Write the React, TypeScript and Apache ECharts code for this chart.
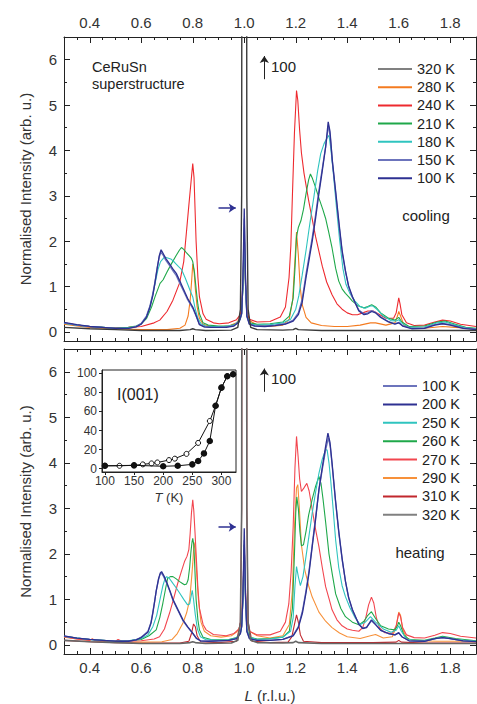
import React, { useEffect, useRef } from 'react';
import * as echarts from 'echarts';

// ---------- tick positions ----------
const xLabelVals = [0.4, 0.6, 0.8, 1.0, 1.2, 1.4, 1.6, 1.8];
const xMinorVals = [0.35, 0.45, 0.5, 0.55, 0.65, 0.7, 0.75, 0.85, 0.9, 0.95, 1.05, 1.1, 1.15, 1.25, 1.3, 1.35, 1.45, 1.5, 1.55, 1.65, 1.7, 1.75, 1.85];
const yLabelVals = [0, 1, 2, 3, 4, 5, 6];
const yMinorVals = [0.5, 1.5, 2.5, 3.5, 4.5, 5.5];
const insetXTicks = [100, 150, 200, 250, 300];
const insetYTicks = [0, 20, 40, 60, 80, 100];

// ---------- top panel (cooling) ----------
const coolNames = ['320 K', '280 K', '240 K', '210 K', '180 K', '150 K', '100 K'];
const cool100 = [[0.30,0.21],[0.35,0.16],[0.40,0.12],[0.45,0.10],[0.50,0.08],[0.55,0.08],[0.58,0.11],[0.60,0.17],[0.62,0.32],[0.634,0.55],[0.645,0.8],[0.653,1.07],[0.662,1.4],[0.67,1.68],[0.677,1.81],[0.684,1.74],[0.695,1.62],[0.71,1.5],[0.725,1.37],[0.736,1.29],[0.75,1.12],[0.765,0.93],[0.78,0.74],[0.80,0.55],[0.812,0.38],[0.826,0.16],[0.845,0.11],[0.87,0.1],[0.9,0.1],[0.93,0.1],[0.96,0.13],[0.98,0.22],[0.99,0.4],[0.995,1.2],[1.0,2.72],[1.005,1.2],[1.01,0.35],[1.02,0.17],[1.04,0.13],[1.08,0.12],[1.12,0.14],[1.16,0.17],[1.19,0.24],[1.21,0.38],[1.225,0.65],[1.24,1.2],[1.252,1.6],[1.264,2.0],[1.277,2.5],[1.29,3.05],[1.303,3.55],[1.316,4.07],[1.326,4.63],[1.333,4.42],[1.342,3.78],[1.355,3.1],[1.368,2.4],[1.38,1.8],[1.393,1.35],[1.405,1.02],[1.42,0.78],[1.445,0.46],[1.465,0.38],[1.48,0.4],[1.495,0.45],[1.51,0.42],[1.53,0.32],[1.56,0.22],[1.585,0.17],[1.6,0.2],[1.615,0.13],[1.65,0.07],[1.7,0.08],[1.74,0.15],[1.77,0.18],[1.8,0.15],[1.85,0.08],[1.9,0.05]];
const cool150 = [[0.30,0.2],[0.35,0.15],[0.40,0.12],[0.45,0.1],[0.50,0.08],[0.55,0.08],[0.58,0.12],[0.60,0.19],[0.62,0.35],[0.634,0.58],[0.645,0.85],[0.653,1.1],[0.662,1.42],[0.67,1.65],[0.676,1.76],[0.684,1.7],[0.695,1.58],[0.71,1.46],[0.725,1.33],[0.736,1.24],[0.75,1.07],[0.765,0.89],[0.78,0.71],[0.80,0.52],[0.812,0.36],[0.826,0.17],[0.845,0.11],[0.87,0.1],[0.9,0.1],[0.93,0.11],[0.96,0.14],[0.98,0.23],[0.99,0.4],[0.995,1.1],[1.0,2.5],[1.005,1.1],[1.01,0.35],[1.02,0.17],[1.04,0.14],[1.08,0.13],[1.12,0.15],[1.16,0.18],[1.19,0.26],[1.21,0.42],[1.225,0.72],[1.24,1.28],[1.252,1.68],[1.264,2.08],[1.277,2.58],[1.29,3.12],[1.303,3.6],[1.316,4.08],[1.327,4.55],[1.334,4.3],[1.343,3.7],[1.356,3.0],[1.369,2.3],[1.381,1.72],[1.394,1.3],[1.406,0.98],[1.42,0.76],[1.445,0.48],[1.465,0.4],[1.48,0.42],[1.495,0.47],[1.51,0.43],[1.53,0.33],[1.56,0.23],[1.585,0.18],[1.6,0.21],[1.615,0.14],[1.65,0.08],[1.7,0.09],[1.74,0.16],[1.77,0.19],[1.8,0.16],[1.85,0.09],[1.9,0.06]];
const cool180 = [[0.30,0.19],[0.35,0.15],[0.40,0.12],[0.45,0.1],[0.50,0.08],[0.55,0.09],[0.58,0.12],[0.60,0.18],[0.62,0.33],[0.634,0.55],[0.645,0.82],[0.655,1.1],[0.665,1.38],[0.675,1.55],[0.69,1.65],[0.703,1.63],[0.717,1.6],[0.73,1.53],[0.745,1.44],[0.756,1.38],[0.77,1.2],[0.782,1.03],[0.792,0.88],[0.80,0.77],[0.81,0.5],[0.82,0.3],[0.832,0.18],[0.85,0.13],[0.88,0.12],[0.92,0.12],[0.96,0.15],[0.98,0.25],[0.99,0.42],[0.995,1.0],[1.0,2.3],[1.005,1.0],[1.01,0.35],[1.02,0.18],[1.05,0.15],[1.1,0.16],[1.15,0.2],[1.18,0.28],[1.2,0.5],[1.212,0.8],[1.225,1.25],[1.24,1.8],[1.255,2.4],[1.271,3.0],[1.285,3.55],[1.297,3.93],[1.31,4.15],[1.322,4.28],[1.329,4.33],[1.336,4.05],[1.346,3.5],[1.358,2.75],[1.37,2.05],[1.383,1.4],[1.395,1.05],[1.41,0.85],[1.43,0.68],[1.45,0.56],[1.47,0.52],[1.49,0.57],[1.5,0.57],[1.515,0.5],[1.54,0.35],[1.57,0.25],[1.59,0.24],[1.6,0.27],[1.61,0.2],[1.64,0.1],[1.7,0.11],[1.75,0.2],[1.78,0.22],[1.82,0.15],[1.86,0.09],[1.9,0.07]];
const cool210 = [[0.30,0.19],[0.35,0.15],[0.40,0.12],[0.45,0.1],[0.50,0.08],[0.55,0.1],[0.58,0.13],[0.60,0.18],[0.621,0.3],[0.64,0.55],[0.655,0.8],[0.665,0.95],[0.673,1.07],[0.685,1.15],[0.70,1.32],[0.717,1.5],[0.735,1.68],[0.748,1.8],[0.756,1.86],[0.765,1.82],[0.776,1.74],[0.786,1.68],[0.795,1.62],[0.80,1.55],[0.807,1.3],[0.814,0.9],[0.82,0.6],[0.826,0.4],[0.84,0.2],[0.86,0.15],[0.9,0.13],[0.94,0.13],[0.97,0.18],[0.985,0.28],[0.99,0.42],[0.995,1.0],[1.0,2.2],[1.005,1.0],[1.01,0.38],[1.02,0.2],[1.05,0.17],[1.1,0.18],[1.15,0.22],[1.175,0.35],[1.19,0.75],[1.197,1.4],[1.203,2.1],[1.21,2.3],[1.22,2.45],[1.23,2.7],[1.24,3.05],[1.25,3.35],[1.257,3.48],[1.265,3.38],[1.275,3.22],[1.29,2.95],[1.305,2.7],[1.316,2.5],[1.328,2.2],[1.341,1.85],[1.355,1.4],[1.367,1.12],[1.38,0.95],[1.393,0.85],[1.405,0.78],[1.42,0.68],[1.444,0.57],[1.465,0.53],[1.48,0.56],[1.495,0.6],[1.51,0.55],[1.53,0.42],[1.56,0.3],[1.585,0.26],[1.6,0.32],[1.612,0.22],[1.64,0.12],[1.7,0.13],[1.75,0.22],[1.78,0.24],[1.82,0.17],[1.86,0.1],[1.9,0.08]];
const cool240 = [[0.30,0.2],[0.35,0.15],[0.40,0.12],[0.45,0.1],[0.50,0.09],[0.55,0.1],[0.60,0.12],[0.65,0.2],[0.672,0.26],[0.70,0.45],[0.723,0.7],[0.749,1.08],[0.765,1.55],[0.775,2.17],[0.785,2.8],[0.795,3.41],[0.80,3.71],[0.805,3.4],[0.813,2.0],[0.82,1.2],[0.826,0.77],[0.84,0.4],[0.852,0.28],[0.88,0.2],[0.903,0.18],[0.94,0.2],[0.97,0.27],[0.985,0.38],[0.99,0.55],[0.995,1.1],[1.0,2.2],[1.005,1.1],[1.01,0.45],[1.02,0.28],[1.05,0.22],[1.1,0.23],[1.14,0.33],[1.16,0.55],[1.174,1.2],[1.181,1.9],[1.187,3.0],[1.195,4.4],[1.203,5.32],[1.208,5.1],[1.215,4.45],[1.222,3.95],[1.232,3.5],[1.25,2.9],[1.277,2.1],[1.303,1.45],[1.32,1.1],[1.341,0.82],[1.36,0.62],[1.38,0.5],[1.40,0.42],[1.42,0.38],[1.44,0.38],[1.46,0.42],[1.48,0.46],[1.5,0.46],[1.52,0.4],[1.55,0.3],[1.58,0.3],[1.59,0.42],[1.596,0.62],[1.6,0.75],[1.605,0.62],[1.612,0.38],[1.63,0.2],[1.66,0.14],[1.7,0.15],[1.74,0.22],[1.77,0.26],[1.8,0.24],[1.84,0.17],[1.9,0.12]];
const cool280 = [[0.30,0.17],[0.35,0.13],[0.40,0.1],[0.45,0.08],[0.5,0.07],[0.6,0.05],[0.7,0.05],[0.75,0.08],[0.77,0.15],[0.782,0.35],[0.79,0.7],[0.796,1.15],[0.80,1.5],[0.805,1.35],[0.81,0.95],[0.817,0.55],[0.826,0.3],[0.84,0.17],[0.87,0.12],[0.9,0.11],[0.94,0.13],[0.97,0.2],[0.985,0.32],[0.99,0.5],[0.995,1.0],[1.0,2.0],[1.005,1.0],[1.01,0.45],[1.02,0.25],[1.05,0.15],[1.1,0.12],[1.15,0.15],[1.175,0.28],[1.188,0.7],[1.195,1.4],[1.203,2.2],[1.21,1.7],[1.217,1.0],[1.225,0.6],[1.24,0.32],[1.26,0.2],[1.3,0.14],[1.35,0.12],[1.4,0.12],[1.45,0.15],[1.49,0.2],[1.51,0.2],[1.55,0.15],[1.585,0.2],[1.595,0.35],[1.6,0.45],[1.607,0.35],[1.62,0.15],[1.65,0.08],[1.7,0.08],[1.77,0.12],[1.82,0.1],[1.9,0.07]];
const cool320 = [[0.30,0.1],[0.4,0.07],[0.5,0.05],[0.6,0.03],[0.75,0.03],[0.79,0.05],[0.80,0.07],[0.81,0.05],[0.85,0.03],[0.95,0.04],[0.975,0.1],[0.985,0.5],[0.99,3],[0.993,30],[0.996,100],[1.004,100],[1.007,30],[1.01,3],[1.015,0.5],[1.025,0.1],[1.05,0.05],[1.15,0.04],[1.19,0.05],[1.2,0.08],[1.21,0.05],[1.3,0.03],[1.5,0.03],[1.7,0.03],[1.9,0.03]];

// ---------- bottom panel (heating) ----------
const heatNames = ['100 K', '200 K', '250 K', '260 K', '270 K', '290 K', '310 K', '320 K'];
const heat100 = [[0.30,0.19],[0.35,0.15],[0.40,0.12],[0.45,0.1],[0.50,0.08],[0.55,0.08],[0.58,0.11],[0.60,0.17],[0.626,0.3],[0.638,0.5],[0.645,0.72],[0.652,0.96],[0.658,1.18],[0.667,1.43],[0.673,1.55],[0.678,1.58],[0.687,1.5],[0.70,1.34],[0.712,1.16],[0.723,0.98],[0.742,0.76],[0.762,0.53],[0.78,0.39],[0.80,0.25],[0.815,0.14],[0.83,0.09],[0.86,0.08],[0.9,0.09],[0.94,0.1],[0.97,0.14],[0.985,0.25],[0.99,0.4],[0.995,1.0],[1.0,2.3],[1.005,1.0],[1.01,0.3],[1.02,0.14],[1.05,0.1],[1.1,0.1],[1.15,0.12],[1.19,0.21],[1.21,0.4],[1.226,0.75],[1.24,1.2],[1.252,1.65],[1.264,2.2],[1.277,2.8],[1.29,3.4],[1.303,3.85],[1.316,4.28],[1.327,4.55],[1.334,4.35],[1.342,3.9],[1.355,3.12],[1.368,2.42],[1.381,1.84],[1.394,1.36],[1.406,1.02],[1.42,0.76],[1.445,0.46],[1.46,0.37],[1.475,0.39],[1.494,0.53],[1.51,0.44],[1.53,0.32],[1.56,0.25],[1.585,0.22],[1.6,0.26],[1.612,0.18],[1.64,0.09],[1.7,0.08],[1.74,0.14],[1.77,0.16],[1.8,0.14],[1.85,0.09],[1.9,0.07]];
const heat200 = [[0.30,0.2],[0.35,0.15],[0.40,0.12],[0.45,0.1],[0.50,0.08],[0.55,0.08],[0.58,0.11],[0.60,0.16],[0.626,0.28],[0.638,0.48],[0.645,0.7],[0.652,0.95],[0.658,1.18],[0.667,1.45],[0.674,1.58],[0.679,1.61],[0.688,1.52],[0.70,1.36],[0.712,1.18],[0.723,1.0],[0.742,0.78],[0.762,0.55],[0.78,0.4],[0.80,0.26],[0.815,0.14],[0.83,0.09],[0.86,0.08],[0.9,0.09],[0.94,0.1],[0.97,0.14],[0.985,0.25],[0.99,0.4],[0.995,1.1],[1.0,2.56],[1.005,1.1],[1.01,0.3],[1.02,0.14],[1.05,0.1],[1.1,0.1],[1.15,0.12],[1.19,0.2],[1.21,0.38],[1.226,0.7],[1.24,1.15],[1.252,1.6],[1.264,2.16],[1.277,2.75],[1.29,3.41],[1.303,3.9],[1.316,4.36],[1.325,4.65],[1.333,4.45],[1.341,4.0],[1.354,3.2],[1.367,2.5],[1.38,1.9],[1.393,1.4],[1.405,1.05],[1.42,0.78],[1.445,0.45],[1.46,0.36],[1.475,0.38],[1.494,0.55],[1.51,0.45],[1.53,0.32],[1.56,0.25],[1.585,0.22],[1.6,0.27],[1.612,0.18],[1.64,0.09],[1.7,0.08],[1.74,0.14],[1.77,0.16],[1.8,0.14],[1.85,0.09],[1.9,0.07]];
const heat250 = [[0.30,0.19],[0.35,0.15],[0.40,0.12],[0.45,0.1],[0.50,0.08],[0.55,0.09],[0.60,0.14],[0.626,0.22],[0.645,0.4],[0.66,0.65],[0.671,0.95],[0.684,1.3],[0.692,1.45],[0.698,1.5],[0.708,1.47],[0.723,1.35],[0.736,1.25],[0.749,1.14],[0.765,1.0],[0.78,0.88],[0.788,0.9],[0.794,1.08],[0.798,1.2],[0.803,1.0],[0.81,0.66],[0.818,0.35],[0.83,0.18],[0.85,0.12],[0.9,0.1],[0.94,0.11],[0.97,0.15],[0.985,0.26],[0.99,0.42],[0.995,1.0],[1.0,2.2],[1.005,1.0],[1.01,0.35],[1.02,0.16],[1.05,0.12],[1.1,0.13],[1.15,0.17],[1.18,0.3],[1.19,0.6],[1.197,1.3],[1.203,1.72],[1.21,1.5],[1.218,1.3],[1.228,1.5],[1.24,1.95],[1.251,2.38],[1.264,2.9],[1.277,3.35],[1.29,3.77],[1.303,4.08],[1.316,4.29],[1.322,4.28],[1.329,4.0],[1.336,3.6],[1.345,3.0],[1.355,2.3],[1.367,1.7],[1.38,1.3],[1.393,1.06],[1.41,0.82],[1.43,0.6],[1.45,0.45],[1.47,0.5],[1.49,0.62],[1.51,0.5],[1.54,0.35],[1.57,0.28],[1.59,0.32],[1.6,0.42],[1.61,0.3],[1.63,0.13],[1.68,0.08],[1.73,0.12],[1.77,0.17],[1.82,0.12],[1.9,0.08]];
const heat260 = [[0.30,0.19],[0.35,0.15],[0.40,0.12],[0.45,0.1],[0.50,0.08],[0.55,0.09],[0.60,0.12],[0.63,0.2],[0.658,0.33],[0.672,0.6],[0.684,0.92],[0.695,1.25],[0.703,1.47],[0.713,1.5],[0.723,1.5],[0.736,1.45],[0.749,1.39],[0.76,1.35],[0.768,1.32],[0.776,1.34],[0.782,1.43],[0.788,1.7],[0.793,2.05],[0.797,2.25],[0.80,2.34],[0.804,2.2],[0.808,1.7],[0.813,1.0],[0.82,0.55],[0.826,0.33],[0.84,0.17],[0.87,0.12],[0.9,0.11],[0.94,0.12],[0.97,0.16],[0.985,0.27],[0.99,0.42],[0.995,1.0],[1.0,2.2],[1.005,1.0],[1.01,0.36],[1.02,0.17],[1.05,0.13],[1.1,0.14],[1.15,0.17],[1.175,0.3],[1.187,0.8],[1.195,2.0],[1.2,2.9],[1.204,3.25],[1.21,3.0],[1.216,2.5],[1.222,2.18],[1.23,2.2],[1.24,2.5],[1.25,2.85],[1.264,3.2],[1.277,3.48],[1.29,3.7],[1.298,3.55],[1.306,3.2],[1.316,2.7],[1.329,2.0],[1.342,1.55],[1.355,1.12],[1.375,0.8],[1.393,0.62],[1.42,0.5],[1.445,0.44],[1.465,0.52],[1.48,0.65],[1.494,0.73],[1.51,0.58],[1.53,0.42],[1.56,0.35],[1.585,0.33],[1.595,0.42],[1.6,0.5],[1.607,0.42],[1.62,0.22],[1.64,0.12],[1.7,0.1],[1.74,0.15],[1.77,0.19],[1.82,0.14],[1.9,0.09]];
const heat270 = [[0.30,0.18],[0.35,0.13],[0.40,0.1],[0.41,0.13],[0.42,0.1],[0.46,0.08],[0.50,0.08],[0.51,0.12],[0.525,0.08],[0.6,0.09],[0.65,0.13],[0.671,0.18],[0.69,0.35],[0.71,0.7],[0.725,1.0],[0.742,1.36],[0.755,1.6],[0.768,1.83],[0.778,1.95],[0.785,2.1],[0.79,2.45],[0.795,2.9],[0.80,3.19],[0.804,2.95],[0.809,2.45],[0.814,1.9],[0.82,1.25],[0.826,0.8],[0.84,0.45],[0.852,0.33],[0.88,0.23],[0.93,0.2],[0.96,0.25],[0.98,0.35],[0.99,0.6],[0.995,1.2],[1.0,2.2],[1.005,1.2],[1.01,0.55],[1.02,0.3],[1.05,0.22],[1.1,0.22],[1.14,0.3],[1.16,0.5],[1.173,0.9],[1.182,1.6],[1.19,2.6],[1.197,3.9],[1.203,4.58],[1.209,4.15],[1.215,3.65],[1.222,3.37],[1.232,3.45],[1.243,3.55],[1.252,3.38],[1.262,3.04],[1.275,2.6],[1.29,2.16],[1.303,1.7],[1.316,1.28],[1.33,1.0],[1.341,0.77],[1.36,0.55],[1.38,0.42],[1.40,0.35],[1.42,0.32],[1.445,0.3],[1.46,0.38],[1.472,0.6],[1.483,0.88],[1.494,1.05],[1.503,0.92],[1.513,0.6],[1.525,0.38],[1.545,0.27],[1.575,0.25],[1.59,0.42],[1.6,0.7],[1.607,0.62],[1.615,0.38],[1.63,0.22],[1.66,0.16],[1.7,0.15],[1.74,0.21],[1.77,0.27],[1.8,0.25],[1.84,0.19],[1.9,0.15]];
const heat290 = [[0.30,0.17],[0.35,0.13],[0.40,0.1],[0.41,0.13],[0.42,0.1],[0.46,0.08],[0.50,0.07],[0.51,0.11],[0.525,0.07],[0.6,0.06],[0.68,0.07],[0.72,0.12],[0.74,0.25],[0.762,0.48],[0.776,0.7],[0.788,0.99],[0.796,1.5],[0.80,1.79],[0.805,2.25],[0.81,2.1],[0.816,1.5],[0.822,1.0],[0.832,0.5],[0.845,0.3],[0.87,0.2],[0.91,0.17],[0.95,0.2],[0.97,0.28],[0.985,0.4],[0.99,0.55],[0.995,1.1],[1.0,2.0],[1.005,1.1],[1.01,0.5],[1.02,0.3],[1.05,0.2],[1.1,0.15],[1.15,0.2],[1.175,0.45],[1.187,1.2],[1.195,2.6],[1.203,3.45],[1.208,3.52],[1.214,3.0],[1.222,2.2],[1.235,1.65],[1.25,1.3],[1.264,1.05],[1.29,0.72],[1.316,0.52],[1.341,0.38],[1.37,0.26],[1.4,0.18],[1.45,0.14],[1.49,0.2],[1.51,0.23],[1.54,0.15],[1.575,0.18],[1.59,0.4],[1.6,0.72],[1.607,0.65],[1.615,0.35],[1.63,0.15],[1.66,0.09],[1.75,0.08],[1.85,0.08],[1.9,0.07]];
const heat310 = [[0.30,0.1],[0.4,0.07],[0.5,0.05],[0.6,0.04],[0.75,0.04],[0.785,0.08],[0.795,0.25],[0.803,0.46],[0.81,0.4],[0.817,0.2],[0.83,0.07],[0.9,0.05],[0.97,0.08],[0.985,0.5],[0.99,3],[0.993,30],[0.996,100],[1.004,100],[1.007,30],[1.01,3],[1.015,0.5],[1.03,0.08],[1.1,0.05],[1.17,0.06],[1.185,0.18],[1.195,0.45],[1.203,0.66],[1.21,0.5],[1.218,0.22],[1.23,0.08],[1.3,0.05],[1.5,0.05],[1.59,0.06],[1.6,0.1],[1.61,0.06],[1.7,0.04],[1.9,0.04]];
const heat320 = [[0.30,0.1],[0.4,0.07],[0.5,0.05],[0.6,0.03],[0.75,0.03],[0.79,0.05],[0.80,0.07],[0.81,0.05],[0.85,0.03],[0.95,0.04],[0.975,0.1],[0.985,0.5],[0.99,3],[0.993,30],[0.996,100],[1.004,100],[1.007,30],[1.01,3],[1.015,0.5],[1.025,0.1],[1.05,0.05],[1.15,0.04],[1.19,0.05],[1.2,0.08],[1.21,0.05],[1.3,0.03],[1.5,0.03],[1.7,0.03],[1.9,0.03]];

// ---------- inset I(001) vs T ----------
const insetCoolT = [100, 125, 150, 165, 180, 190, 210, 220, 240, 260, 280, 290, 300, 310, 320];
const insetCoolI = [3, 3, 3.5, 4.5, 5.5, 6.5, 9, 10.5, 15.5, 27, 50, 66, 85, 97, 99];
const insetHeatT = [100, 150, 200, 225, 250, 260, 270, 280, 290, 300, 310, 320];
const insetHeatI = [3, 3.5, 2.5, 3, 4.5, 8, 16, 29, 66, 85, 97, 99];

// ---------- styling ----------
const FONT = '"Liberation Sans", Arial, Helvetica, sans-serif';
const INK = '#222';
const NAVY = '#2e3192';
const SLATE = '#6c74bc';
const CYAN = '#2fc4bf';
const GREEN = '#1fa84a';
const RED = '#ee2a2f';
const PINK = '#f2464f';
const DARKRED = '#c1272d';
const ORANGE = '#f47b20';
const ORANGE2 = '#f7913a';
const BLACK = '#3a3a3a';
const GRAY = '#666666';

const coolColors = [GRAY, ORANGE, RED, GREEN, CYAN, SLATE, NAVY];
const heatColors = [SLATE, NAVY, CYAN, GREEN, PINK, ORANGE2, DARKRED, GRAY];

function xAxesFor(gridIndex: number, labelPos: 'top' | 'bottom', withName: boolean) {
  const other = labelPos === 'top' ? 'bottom' : 'top';
  const base: any = {
    type: 'value', gridIndex, min: 0.3, max: 1.9,
    splitLine: { show: false },
    axisLine: { show: true, onZero: false, lineStyle: { color: INK, width: 1 } },
  };
  return [
    {
      ...base, position: labelPos,
      axisTick: { show: true, inside: true, length: 6, customValues: xLabelVals, lineStyle: { color: INK } },
      axisLabel: { show: true, customValues: xLabelVals, formatter: (v: number) => v.toFixed(1), fontSize: 15, color: '#333', fontFamily: FONT, margin: labelPos === 'top' ? 7 : 6 },
      ...(withName ? {
        name: '{i|L} (r.l.u.)', nameLocation: 'middle', nameGap: 34,
        nameTextStyle: { fontSize: 15, color: '#333', fontFamily: FONT, rich: { i: { fontStyle: 'italic', fontSize: 15, color: '#333', fontFamily: FONT } } },
      } : {}),
    },
    { ...base, position: labelPos, axisLine: { show: false, onZero: false }, axisTick: { show: true, inside: true, length: 3, customValues: xMinorVals, lineStyle: { color: INK } }, axisLabel: { show: false } },
    { ...base, position: other, axisTick: { show: true, inside: true, length: 6, customValues: xLabelVals, lineStyle: { color: INK } }, axisLabel: { show: false } },
    { ...base, position: other, axisLine: { show: false, onZero: false }, axisTick: { show: true, inside: true, length: 3, customValues: xMinorVals, lineStyle: { color: INK } }, axisLabel: { show: false } },
  ];
}

function yAxesFor(gridIndex: number) {
  const base: any = {
    type: 'value', gridIndex, min: -0.2, max: 6.5,
    splitLine: { show: false },
    axisLine: { show: true, onZero: false, lineStyle: { color: INK, width: 1 } },
  };
  return [
    {
      ...base, position: 'left',
      axisTick: { show: true, inside: true, length: 6, customValues: yLabelVals, lineStyle: { color: INK } },
      axisLabel: { show: true, customValues: yLabelVals, fontSize: 15, color: '#333', fontFamily: FONT, margin: 7 },
      name: 'Normalised Intensity (arb. u.)', nameLocation: 'middle', nameGap: 31,
      nameTextStyle: { fontSize: 15, color: '#333', fontFamily: FONT },
    },
    { ...base, position: 'left', axisLine: { show: false, onZero: false }, axisTick: { show: true, inside: true, length: 3, customValues: yMinorVals, lineStyle: { color: INK } }, axisLabel: { show: false } },
    { ...base, position: 'right', axisTick: { show: true, inside: true, length: 6, customValues: yLabelVals, lineStyle: { color: INK } }, axisLabel: { show: false } },
    { ...base, position: 'right', axisLine: { show: false, onZero: false }, axisTick: { show: true, inside: true, length: 3, customValues: yMinorVals, lineStyle: { color: INK } }, axisLabel: { show: false } },
  ];
}

function lineSeries(name: string, data: number[][], color: string, axisIndex: number, width: number, z: number, extra: any = {}) {
  return {
    type: 'line', name, data, xAxisIndex: axisIndex, yAxisIndex: axisIndex,
    showSymbol: false, symbol: 'none', smooth: false, clip: true, z,
    lineStyle: { color, width }, itemStyle: { color },
    emphasis: { disabled: true }, silent: true,
    ...extra,
  };
}

function arrowMark(color: string, width: number, from: number[], to: number[]) {
  return {
    markLine: {
      silent: true, animation: false, symbol: ['none', 'arrow'], symbolSize: 7,
      lineStyle: { color, width, type: 'solid' }, label: { show: false },
      emphasis: { disabled: true },
      data: [[{ coord: from }, { coord: to }]],
    },
  };
}

function buildOption() {
  const coolData = [cool320, cool280, cool240, cool210, cool180, cool150, cool100];
  const heatData = [heat100, heat200, heat250, heat260, heat270, heat290, heat310, heat320];

  const series: any[] = [];
  // top panel: draw order orange, red, green, cyan, slate, navy, black
  const coolOrder = [1, 2, 3, 4, 5, 6, 0];
  coolOrder.forEach((i, k) => {
    let extra: any = {};
    if (i === 6) extra = arrowMark(NAVY, 1.5, [0.9, 2.73], [0.967, 2.73]);
    if (i === 0) extra = arrowMark(INK, 1, [1.078, 5.57], [1.078, 6.08]);
    const w = i === 0 ? 1.4 : (i >= 5 ? 1.3 : 1.1);
    series.push(lineSeries(coolNames[i], coolData[i], i === 0 ? BLACK : coolColors[i], 0, w, 2 + k, extra));
  });
  // bottom panel: draw order 310, 290, 270, 260, 250, 100, 200, 320
  const heatOrder = [6, 5, 4, 3, 2, 0, 1, 7];
  heatOrder.forEach((i, k) => {
    let extra: any = {};
    if (i === 1) extra = arrowMark(NAVY, 1.5, [0.9, 2.59], [0.967, 2.59]);
    if (i === 7) extra = arrowMark(INK, 1, [1.078, 5.56], [1.078, 6.07]);
    const w = i === 7 ? 1.6 : (i <= 1 ? 1.3 : 1.1);
    series.push(lineSeries(heatNames[i], heatData[i], heatColors[i], 4, w, 2 + k, extra));
  });

  // inset
  series.push({
    type: 'line', name: 'cooling I(001)', xAxisIndex: 8, yAxisIndex: 8, z: 20,
    data: insetCoolT.map((t, i) => [t, insetCoolI[i]]),
    symbol: 'circle', symbolSize: 5, showSymbol: true,
    lineStyle: { color: '#111', width: 1 },
    itemStyle: { color: '#fff', borderColor: '#111', borderWidth: 1 },
    emphasis: { disabled: true }, silent: true,
    ...arrowMark('#111', 1, [266.5, 47.8], [255, 32]),
  });
  series.push({
    type: 'line', name: 'heating I(001)', xAxisIndex: 8, yAxisIndex: 8, z: 21,
    data: insetHeatT.map((t, i) => [t, insetHeatI[i]]),
    symbol: 'circle', symbolSize: 6.5, showSymbol: true,
    lineStyle: { color: '#111', width: 1 },
    itemStyle: { color: '#111' },
    emphasis: { disabled: true }, silent: true,
    ...arrowMark('#111', 1, [287.5, 20.9], [296, 35.5]),
  });

  const legendText = { fontSize: 14.5, lineHeight: 16, color: INK, fontFamily: FONT };

  return {
    animation: false,
    backgroundColor: '#fff',
    grid: [
      { left: 64, top: 37, width: 412, height: 304 },
      { left: 64, top: 349, width: 412, height: 305 },
      { left: 102, top: 370, width: 134, height: 102, show: true, backgroundColor: '#fff', borderColor: INK, borderWidth: 1, z: 10 },
    ],
    xAxis: [
      ...xAxesFor(0, 'top', false),
      ...xAxesFor(1, 'bottom', true),
      {
        type: 'value', gridIndex: 2, min: 95, max: 325, position: 'bottom', z: 12,
        splitLine: { show: false },
        axisLine: { show: true, onZero: false, lineStyle: { color: INK } },
        axisTick: { show: true, inside: false, length: 3, customValues: insetXTicks, lineStyle: { color: INK } },
        axisLabel: { customValues: insetXTicks, fontSize: 12, color: '#333', fontFamily: FONT, margin: 3 },
        name: '{i|T} (K)', nameLocation: 'middle', nameGap: 19,
        nameTextStyle: { fontSize: 13, color: '#333', fontFamily: FONT, rich: { i: { fontStyle: 'italic', fontSize: 13, color: '#333', fontFamily: FONT } } },
      },
    ],
    yAxis: [
      ...yAxesFor(0),
      ...yAxesFor(1),
      {
        type: 'value', gridIndex: 2, min: -3.5, max: 103.5, position: 'left', z: 12,
        splitLine: { show: false },
        axisLine: { show: true, onZero: false, lineStyle: { color: INK } },
        axisTick: { show: true, inside: false, length: 3, customValues: insetYTicks, lineStyle: { color: INK } },
        axisLabel: { customValues: insetYTicks, fontSize: 12, color: '#333', fontFamily: FONT, margin: 5 },
      },
    ],
    legend: [
      {
        orient: 'vertical', left: 378, top: 61, padding: 0, itemGap: 2.2,
        itemWidth: 34, itemHeight: 2, icon: 'rect', selectedMode: false,
        textStyle: legendText,
        data: coolNames.map((n, i) => ({ name: n, itemStyle: { color: i === 0 ? '#808080' : coolColors[i], borderWidth: 0 } })),
      },
      {
        orient: 'vertical', left: 383, top: 378, padding: 0, itemGap: 2.4,
        itemWidth: 34, itemHeight: 2, icon: 'rect', selectedMode: false,
        textStyle: legendText,
        data: heatNames.map((n, i) => ({ name: n, itemStyle: { color: i === 7 ? '#808080' : heatColors[i], borderWidth: 0 } })),
      },
    ],
    graphic: [
      { type: 'text', x: 92, y: 58, silent: true, style: { text: 'CeRuSn\nsuperstructure', fill: INK, font: `14.5px ${FONT}`, lineHeight: 17.6 } },
      { type: 'text', x: 426, y: 215, silent: true, style: { text: 'cooling', fill: INK, font: `15px ${FONT}`, align: 'center', verticalAlign: 'middle' } },
      { type: 'text', x: 420, y: 552, silent: true, style: { text: 'heating', fill: INK, font: `15px ${FONT}`, align: 'center', verticalAlign: 'middle' } },
      { type: 'text', x: 271, y: 66, silent: true, style: { text: '100', fill: INK, font: `15px ${FONT}`, align: 'left', verticalAlign: 'middle' } },
      { type: 'text', x: 271, y: 378, silent: true, style: { text: '100', fill: INK, font: `15px ${FONT}`, align: 'left', verticalAlign: 'middle' } },
      { type: 'text', x: 117, y: 394, z: 100, silent: true, style: { text: 'I(001)', fill: INK, font: `16px ${FONT}`, align: 'left', verticalAlign: 'middle' } },
    ],
    series,
  };
}

export default function App() {
  const ref = useRef<HTMLDivElement>(null);
  useEffect(() => {
    if (!ref.current) return;
    const chart = echarts.init(ref.current, null, { renderer: 'svg' });
    chart.setOption(buildOption() as any);
    return () => chart.dispose();
  }, []);
  return <div ref={ref} style={{ position: 'absolute', left: 0, top: 0, width: 477, height: 704, background: '#fff' }} />;
}
